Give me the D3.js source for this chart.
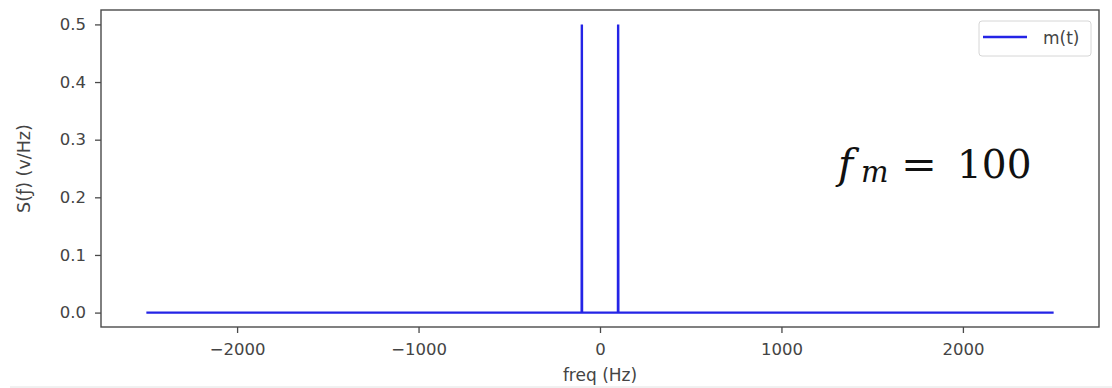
<!DOCTYPE html>
<html>
<head>
<meta charset="utf-8">
<script src="https://cdn.jsdelivr.net/npm/d3@7"></script>
<style>
  html, body { margin: 0; padding: 0; background: #fff; }
  svg { display: block; }
</style>
</head>
<body>
<svg id="chart" width="1112" height="388"></svg>
<script>
// ---- data ----
const freqHz    = [-2500, -101, -100, -99, 99, 100, 101, 2500];
const magnitude = [0, 0, 0.5, 0, 0, 0.5, 0, 0];
const xTicks = [-2000, -1000, 0, 1000, 2000];
const yTicks = [0.0, 0.1, 0.2, 0.3, 0.4, 0.5];
const seriesName = "m(t)";
const xLabel = "freq (Hz)";
const yLabel = "S(ƒ) (v/Hz)";

// ---- layout ----
const W = 1112, H = 388;
const plot = { left: 101, right: 1099, top: 10, bottom: 327 };
const svg = d3.select("#chart");
const font = "'DejaVu Sans', sans-serif";
const lineColor = "#2424e6";
const axisColor = "#4a4a4a";
const textColor = "#444";

const xMin = d3.min(freqHz), xMax = d3.max(freqHz);
const xPad = (xMax - xMin) * 0.05;
const yPad = (d3.max(magnitude) - 0) * 0.05;
const x = d3.scaleLinear().domain([xMin - xPad, xMax + xPad]).range([plot.left, plot.right]);
const y = d3.scaleLinear().domain([0 - yPad, d3.max(magnitude) + yPad]).range([plot.bottom, plot.top]);

// series line
const pts = freqHz.map((f, i) => [f, magnitude[i]]);
svg.append("path")
  .datum(pts)
  .attr("fill", "none")
  .attr("stroke", lineColor)
  .attr("stroke-width", 2.4)
  .attr("d", d3.line().x(d => x(d[0])).y(d => y(d[1])));

// axes
const xAxis = svg.append("g")
  .attr("transform", `translate(0,${plot.bottom})`)
  .call(d3.axisBottom(x).tickValues(xTicks).tickSize(6).tickPadding(9).tickFormat(d3.format("d")));
const yAxis = svg.append("g")
  .attr("transform", `translate(${plot.left},0)`)
  .call(d3.axisLeft(y).tickValues(yTicks).tickSize(6).tickPadding(9).tickFormat(d3.format(".1f")));
[xAxis, yAxis].forEach(g => {
  g.select(".domain").remove();
  g.selectAll(".tick line").attr("stroke", axisColor).attr("stroke-width", 1.3);
  g.selectAll(".tick text").attr("fill", textColor).style("font-family", font).style("font-size", "16.5px");
});
xAxis.selectAll(".tick text").attr("dy", "0.8em");

// frame
svg.append("rect")
  .attr("x", plot.left).attr("y", plot.top)
  .attr("width", plot.right - plot.left).attr("height", plot.bottom - plot.top)
  .attr("fill", "none").attr("stroke", axisColor).attr("stroke-width", 1.4);

// axis labels
svg.append("text")
  .attr("x", (plot.left + plot.right) / 2).attr("y", 381)
  .attr("text-anchor", "middle")
  .attr("fill", textColor)
  .style("font-family", font).style("font-size", "17px")
  .text(xLabel);
svg.append("text")
  .attr("transform", `translate(30,${(plot.top + plot.bottom) / 2}) rotate(-90)`)
  .attr("text-anchor", "middle")
  .attr("fill", textColor)
  .style("font-family", font).style("font-size", "17.5px")
  .text(yLabel);

// legend
const lg = svg.append("g");
lg.append("rect")
  .attr("x", 979).attr("y", 21).attr("width", 112).attr("height", 35)
  .attr("rx", 3)
  .attr("fill", "#fff").attr("stroke", "#d6d6d6").attr("stroke-width", 1);
lg.append("line")
  .attr("x1", 983).attr("x2", 1027).attr("y1", 37).attr("y2", 37)
  .attr("stroke", lineColor).attr("stroke-width", 2.4);
lg.append("text")
  .attr("x", 1043).attr("y", 44)
  .attr("fill", textColor)
  .style("font-family", font).style("font-size", "17px")
  .text(seriesName);

// annotation  f_m = 100
const annFont = "'DejaVu Serif', serif";
svg.append("text").attr("x", 838).attr("y", 178).attr("fill", "#111")
  .style("font-family", annFont).style("font-size", "41px").style("font-style", "italic").text("f");
svg.append("text").attr("x", 861).attr("y", 182).attr("fill", "#111")
  .style("font-family", annFont).style("font-size", "29px").style("font-style", "italic").text("m");
svg.append("text").attr("transform", "translate(901,178) scale(1.1,1)").attr("fill", "#111")
  .style("font-family", annFont).style("font-size", "39px").text("=");
svg.append("text").attr("x", 957).attr("y", 178).attr("fill", "#111")
  .style("font-family", annFont).style("font-size", "39px").text("100");

// faint bottom border line
svg.append("line")
  .attr("x1", 10).attr("x2", W).attr("y1", H - 1).attr("y2", H - 1)
  .attr("stroke", "#e2e2e2").attr("stroke-width", 1);
</script>
</body>
</html>
